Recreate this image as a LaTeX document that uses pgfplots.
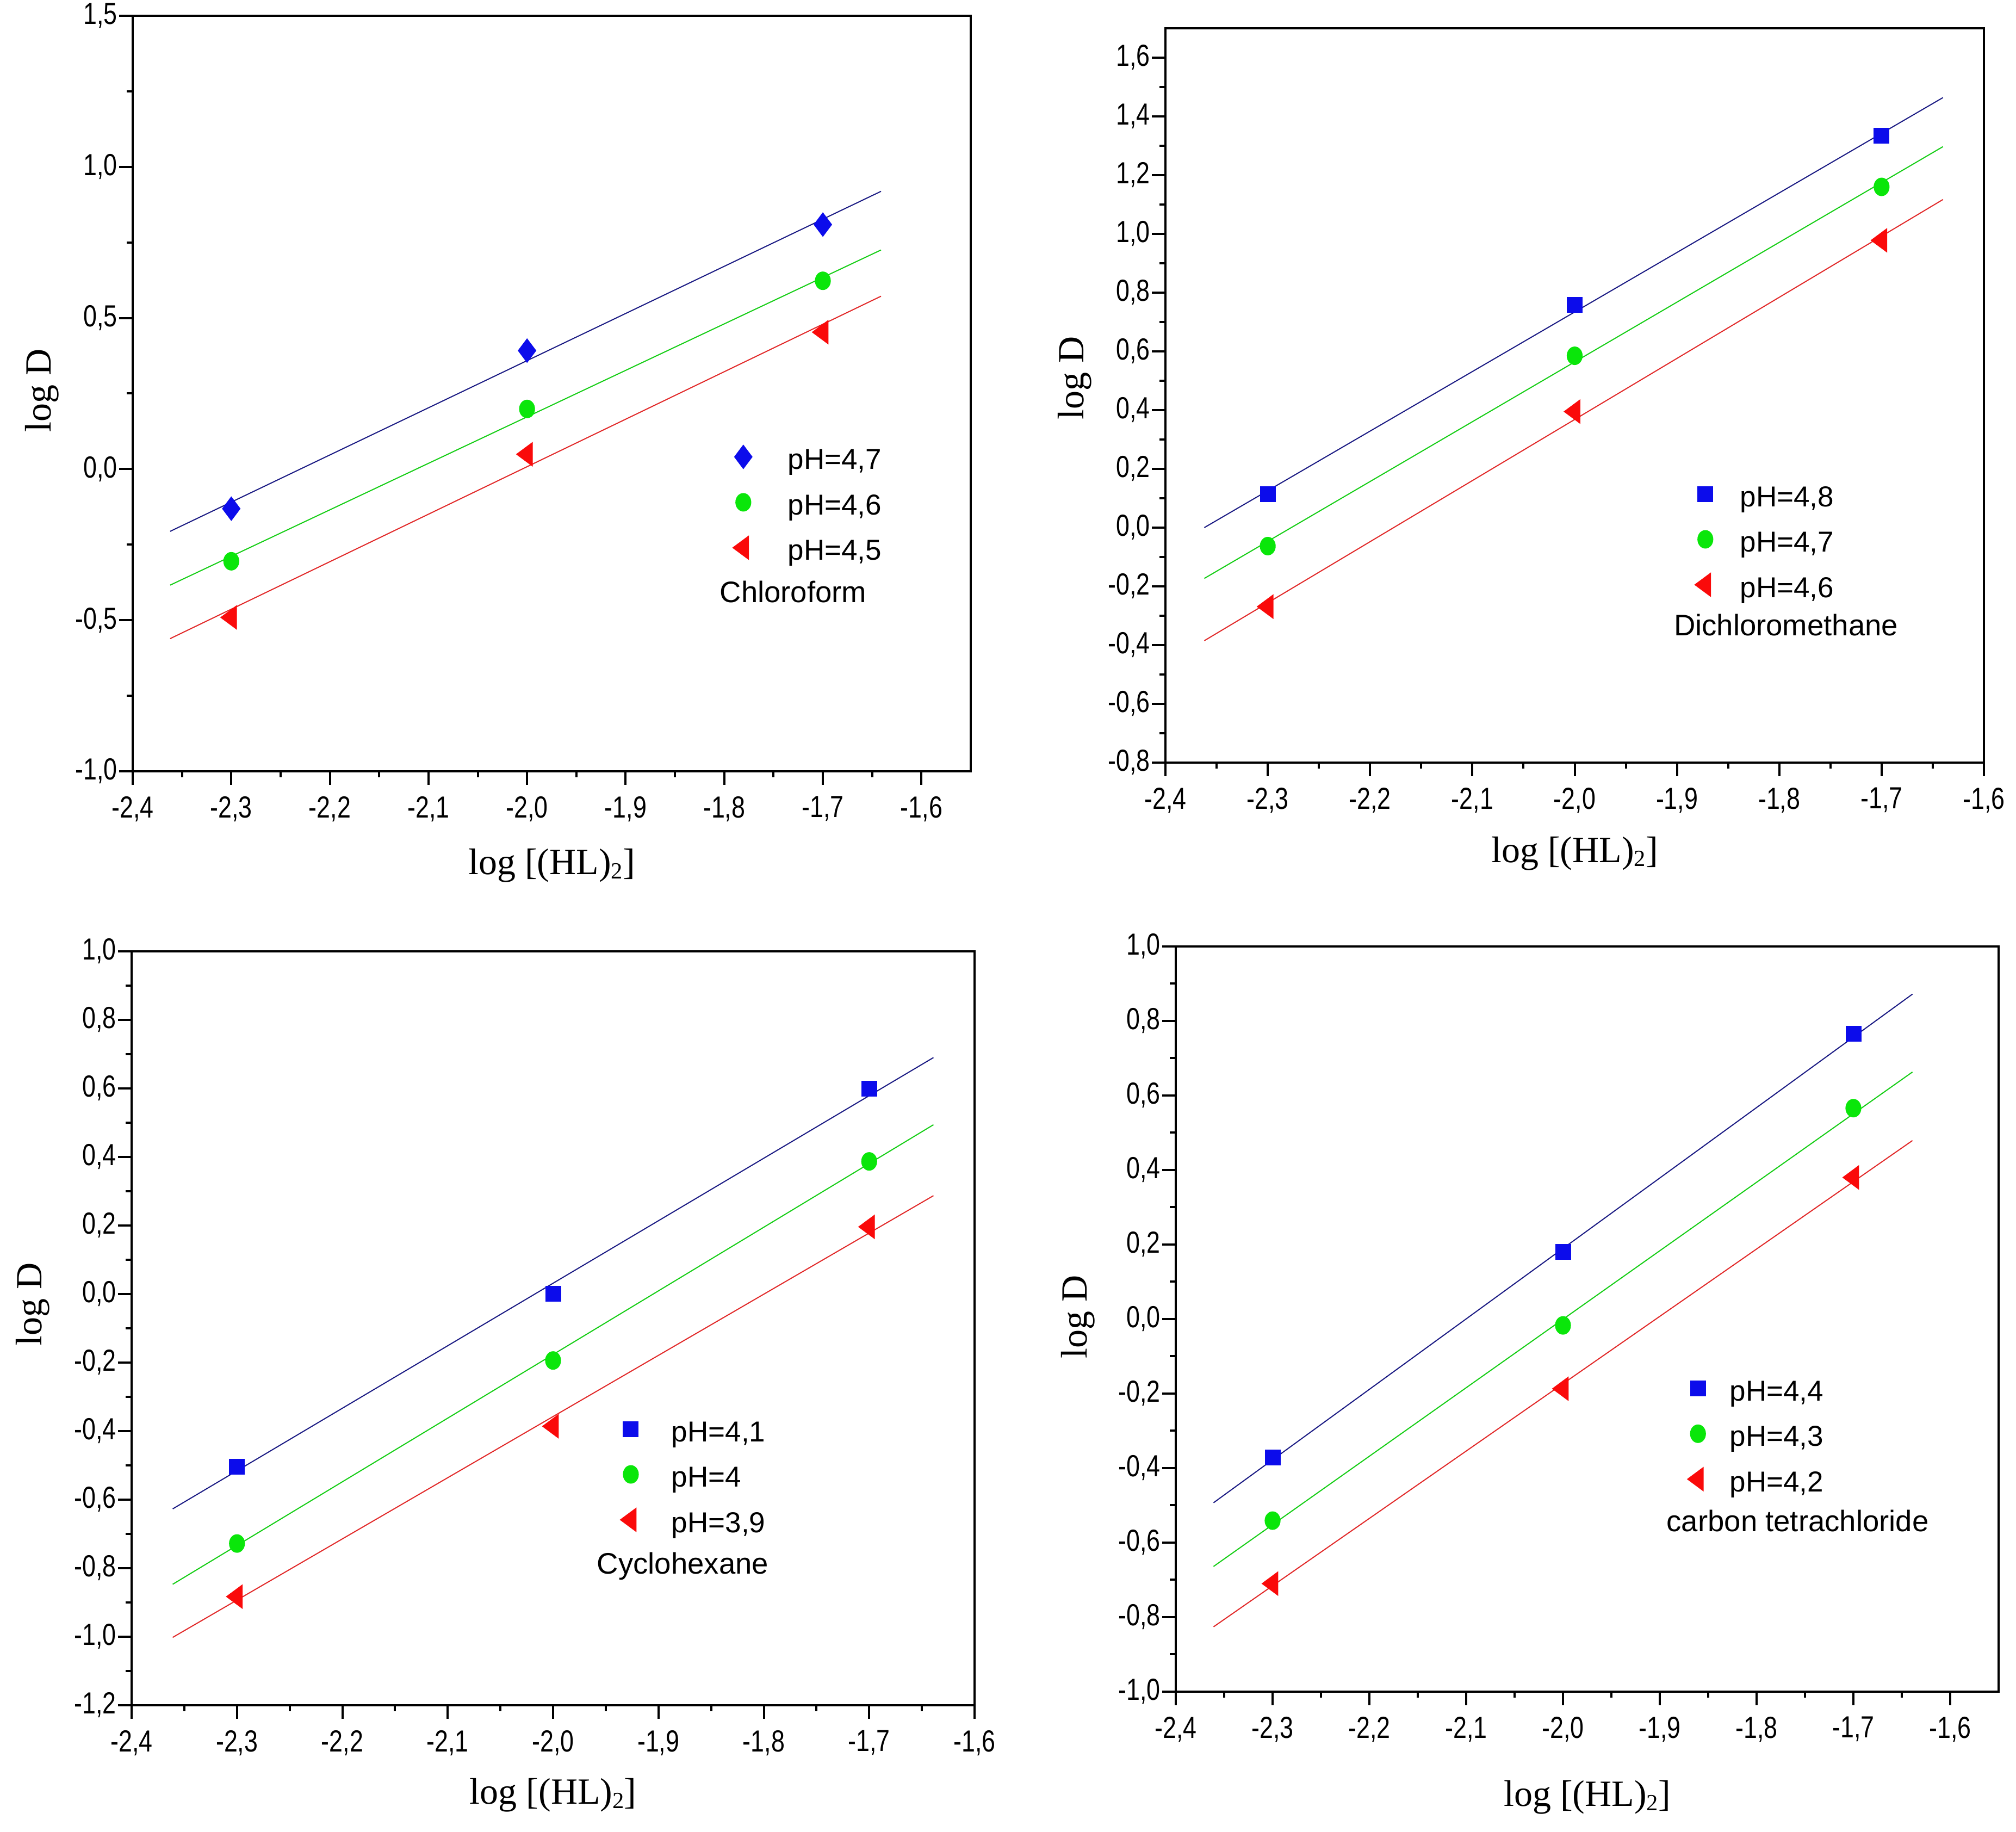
\documentclass[border=0pt]{standalone}
\usepackage{fontspec}
\setmainfont{Liberation Serif}
\newfontfamily\tickfont[FakeStretch=0.8]{Liberation Sans}
\newfontfamily\legfont{Liberation Sans}
\usepackage{pgfplots}
\pgfplotsset{compat=1.18}

\definecolor{mblue}{RGB}{12,12,235}
\definecolor{lblue}{RGB}{25,25,130}
\definecolor{mgreen}{RGB}{10,230,10}
\definecolor{lgreen}{RGB}{20,205,20}
\definecolor{mred}{RGB}{250,10,10}
\definecolor{lred}{RGB}{225,40,40}

\newcommand{\hl}{log [(HL)\raisebox{-0.25ex}{\fontsize{8.5}{9}\selectfont 2}]}

\tikzset{solvent/.style={anchor=base west, inner sep=0pt,
      font=\legfont\fontsize{10.9}{12}\selectfont}}

\pgfplotsset{
  panel/.style={
    scale only axis, anchor=south west,
    axis line style={line width=0.8pt},
    every tick/.style={black, line width=0.8pt},
    tick align=outside, xtick pos=bottom, ytick pos=left,
    major tick length=5pt, minor tick length=2.2pt,
    minor tick num=1,
    xmin=-2.4,
    xtick={-2.4,-2.3,-2.2,-2.1,-2.0,-1.9,-1.8,-1.7,-1.6},
    ticklabel style={font=\tickfont\fontsize{11.2}{12}\selectfont, inner sep=0pt},
    xticklabel shift=4pt, yticklabel shift=0.5pt,
    /pgf/number format/use comma,
    /pgf/number format/fixed,
    /pgf/number format/fixed zerofill,
    /pgf/number format/precision=1,
    /pgf/number format/assume math mode=true,
    xlabel={\hl}, ylabel={log D},
    label style={font=\fontsize{13.6}{15}\selectfont},
    legend cell align=left,
    legend style={draw=none, fill=none, inner sep=0pt, outer sep=0pt,
      anchor=north west, xshift=-5pt, yshift=10pt,
      font=\legfont\fontsize{10.6}{12}\selectfont, row sep=2.3pt,
      nodes={inner sep=0pt, text height=4pt, text depth=4pt}},
  },
  fitline/.style={no marks, line width=0.4pt, forget plot},
  limg/.style={legend image code/.code={\path (-5pt,-4pt) (5pt,10pt);
      \draw[##1] plot coordinates {(0pt,4.6pt)};}},
  pdia/.style={only marks, mark=diamond*, mark size=4.2pt, color=mblue, limg},
  psq/.style={only marks, mark=square*, mark size=2.7pt, color=mblue, limg},
  pcirc/.style={only marks, mark=*, mark size=3.2pt, color=mgreen,
      mark options={xscale=0.85}, limg},
  ptri/.style={only marks, mark=triangle*, mark size=4.8pt, color=mred,
      mark options={rotate=90, yscale=0.78}, limg},
}

\begin{document}
\begin{tikzpicture}
\path[use as bounding box] (0pt,0pt) rectangle (741.4pt,673.6pt);

% Chloroform
\begin{axis}[panel, at={(48.8pt,390pt)}, width=308.2pt, height=277.8pt,
    xmax=-1.55, ymin=-1, ymax=1.5, ytick={-1,-0.5,0,0.5,1,1.5},
    x label style={at={(axis description cs:0.5,-0.1368)}, anchor=base},
    y label style={at={(axis description cs:-0.1084,0.504)}, anchor=center},
    legend style={at={(0.728,0.4003)}, /tikz/every odd column/.append style={column sep=11.2pt}}]
  \addplot[fitline, lblue] coordinates {(-2.362,-0.206) (-1.641,0.919)};
  \addplot[fitline, lgreen] coordinates {(-2.362,-0.384) (-1.641,0.725)};
  \addplot[fitline, lred] coordinates {(-2.362,-0.561) (-1.641,0.572)};
  \addplot[pdia] coordinates {(-2.3,-0.131) (-2.0,0.392) (-1.7,0.809)};
  \addlegendentry{pH=4,7}
  \addplot[pcirc] coordinates {(-2.3,-0.305) (-2.0,0.199) (-1.7,0.623)};
  \addlegendentry{pH=4,6}
  \addplot[ptri] coordinates {(-2.3,-0.491) (-2.0,0.049) (-1.7,0.453)};
  \addlegendentry{pH=4,5}
  \node[solvent] at (axis description cs:0.700,0.2232) {Chloroform};
\end{axis}

% Dichloromethane
\begin{axis}[panel, at={(428.6pt,393.2pt)}, width=301pt, height=270pt,
    xmax=-1.6, ymin=-0.8, ymax=1.7,
    ytick={-0.8,-0.6,-0.4,-0.2,0,0.2,0.4,0.6,0.8,1.0,1.2,1.4,1.6},
    x label style={at={(axis description cs:0.5,-0.1356)}, anchor=base},
    y label style={at={(axis description cs:-0.111,0.524)}, anchor=center},
    legend style={at={(0.659,0.3496)},
      /tikz/every odd column/.append style={column sep=7.6pt}}]
  \addplot[fitline, lblue] coordinates {(-2.362,0.0) (-1.640,1.464)};
  \addplot[fitline, lgreen] coordinates {(-2.362,-0.173) (-1.640,1.297)};
  \addplot[fitline, lred] coordinates {(-2.362,-0.385) (-1.640,1.117)};
  \addplot[psq] coordinates {(-2.3,0.114) (-2.0,0.758) (-1.7,1.335)};
  \addlegendentry{pH=4,8}
  \addplot[pcirc] coordinates {(-2.3,-0.063) (-2.0,0.585) (-1.7,1.160)};
  \addlegendentry{pH=4,7}
  \addplot[ptri] coordinates {(-2.3,-0.269) (-2.0,0.395) (-1.7,0.978)};
  \addlegendentry{pH=4,6}
  \node[solvent] at (axis description cs:0.6206,0.1733) {Dichloromethane};
\end{axis}

% Cyclohexane
\begin{axis}[panel, at={(48.4pt,46.6pt)}, width=310pt, height=277.2pt,
    xmax=-1.6, ymin=-1.2, ymax=1.0,
    ytick={-1.2,-1.0,-0.8,-0.6,-0.4,-0.2,0,0.2,0.4,0.6,0.8,1.0},
    x label style={at={(axis description cs:0.5,-0.1313)}, anchor=base},
    y label style={at={(axis description cs:-0.1174,0.532)}, anchor=center},
    legend style={at={(0.5916,0.3506)}, /tikz/every odd column/.append style={column sep=9.8pt}}]
  \addplot[fitline, lblue] coordinates {(-2.361,-0.627) (-1.639,0.690)};
  \addplot[fitline, lgreen] coordinates {(-2.361,-0.847) (-1.639,0.494)};
  \addplot[fitline, lred] coordinates {(-2.361,-1.002) (-1.639,0.287)};
  \addplot[psq] coordinates {(-2.3,-0.504) (-2.0,0.0) (-1.7,0.599)};
  \addlegendentry{pH=4,1}
  \addplot[pcirc] coordinates {(-2.3,-0.728) (-2.0,-0.194) (-1.7,0.387)};
  \addlegendentry{pH=4}
  \addplot[ptri] coordinates {(-2.3,-0.883) (-2.0,-0.386) (-1.7,0.196)};
  \addlegendentry{pH=3,9}
  \node[solvent] at (axis description cs:0.5516,0.1739) {Cyclohexane};
\end{axis}

% carbon tetrachloride
\begin{axis}[panel, at={(432.4pt,51.6pt)}, width=302.6pt, height=274pt,
    xmax=-1.55, ymin=-1, ymax=1,
    ytick={-1.0,-0.8,-0.6,-0.4,-0.2,0,0.2,0.4,0.6,0.8,1.0},
    x label style={at={(axis description cs:0.5,-0.154)}, anchor=base},
    y label style={at={(axis description cs:-0.119,0.503)}, anchor=center},
    legend style={at={(0.634,0.391)}, /tikz/every odd column/.append style={column sep=6.5pt}}]
  \addplot[fitline, lblue] coordinates {(-2.361,-0.493) (-1.639,0.872)};
  \addplot[fitline, lgreen] coordinates {(-2.361,-0.664) (-1.639,0.663)};
  \addplot[fitline, lred] coordinates {(-2.361,-0.826) (-1.639,0.479)};
  \addplot[psq] coordinates {(-2.3,-0.371) (-2.0,0.180) (-1.7,0.766)};
  \addlegendentry{pH=4,4}
  \addplot[pcirc] coordinates {(-2.3,-0.541) (-2.0,-0.017) (-1.7,0.566)};
  \addlegendentry{pH=4,3}
  \addplot[ptri] coordinates {(-2.3,-0.710) (-2.0,-0.187) (-1.7,0.380)};
  \addlegendentry{pH=4,2}
  \node[solvent] at (axis description cs:0.596,0.2153) {carbon tetrachloride};
\end{axis}
\end{tikzpicture}
\end{document}
